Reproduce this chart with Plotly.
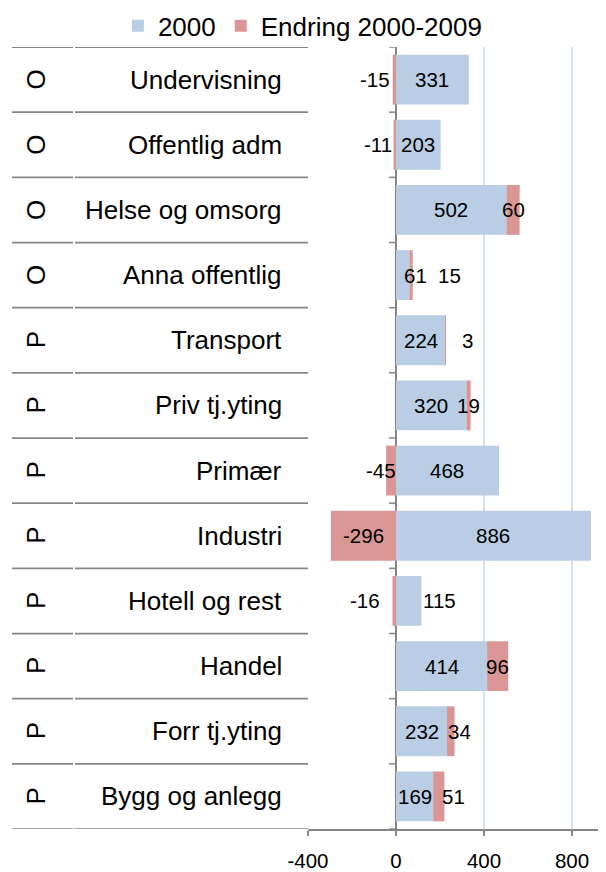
import plotly.graph_objects as go

# ---- data ----
categories = ["Undervisning", "Offentlig adm", "Helse og omsorg", "Anna offentlig",
              "Transport", "Priv tj.yting", "Primær", "Industri", "Hotell og rest",
              "Handel", "Forr tj.yting", "Bygg og anlegg"]
groups = ["O", "O", "O", "O", "P", "P", "P", "P", "P", "P", "P", "P"]
values_2000 = [331, 203, 502, 61, 224, 320, 468, 886, 115, 414, 232, 169]
change_2000_2009 = [-15, -11, 60, 15, 3, 19, -45, -296, -16, 96, 34, 51]
x_ticks = [-400, 0, 400, 800]
series_names = ["2000", "Endring 2000-2009"]

# ---- style ----
FONT = "Liberation Sans, Arial, sans-serif"
BLUE = "#B9CDE5"
RED = "#D99694"
GRAY = "#868686"
GRID = "#D6E1F0"
# pixel nudges of individual data labels (as placed in the original)
blue_label_shift = [0, 0, 0, 13, 0, 0, 0, 0, 31, 0, 0, 0]
red_label_shift = [-19, -17, 0, 38, 22, 0, -10, 0, -29, 0, 9, 15]

fig = go.Figure()
fig.add_trace(go.Bar(y=categories, x=values_2000, orientation="h", name=series_names[0],
                     marker=dict(color=BLUE, line=dict(width=0))))
fig.add_trace(go.Bar(y=categories, x=change_2000_2009, orientation="h", name=series_names[1],
                     marker=dict(color=RED, line=dict(width=0))))

annotations = []
label_font = dict(family=FONT, size=20.5, color="black")
for i, cat in enumerate(categories):
    v = values_2000[i]
    c = change_2000_2009[i]
    annotations.append(dict(x=v / 2, y=cat, xref="x", yref="y", text=str(v),
                            showarrow=False, font=label_font, xshift=blue_label_shift[i]))
    cx = v + c / 2 if c >= 0 else c / 2
    annotations.append(dict(x=cx, y=cat, xref="x", yref="y", text=str(c),
                            showarrow=False, font=label_font, xshift=red_label_shift[i]))
    # category label column
    annotations.append(dict(x=0, y=cat, xref="paper", yref="y", text=cat, showarrow=False,
                            xanchor="right", xshift=-24,
                            font=dict(family=FONT, size=26, color="black")))
    # group label column
    annotations.append(dict(x=0, y=cat, xref="paper", yref="y", text=groups[i], showarrow=False,
                            xanchor="center", xshift=-272, textangle=-90,
                            font=dict(family=FONT, size=26, color="black")))

shapes = []
n = len(categories)
for k in range(n + 1):
    yb = k - 0.5
    # table separator lines (two segments with a small break between columns)
    shapes.append(dict(type="line", xref="paper", yref="y", xsizemode="pixel", xanchor=0,
                       x0=-296, x1=-235, y0=yb, y1=yb, line=dict(color=GRAY, width=1.75)))
    shapes.append(dict(type="line", xref="paper", yref="y", xsizemode="pixel", xanchor=0,
                       x0=-233, x1=0, y0=yb, y1=yb, line=dict(color=GRAY, width=1.75)))
    # tick marks on the zero axis
    shapes.append(dict(type="line", xref="x", yref="y", xsizemode="pixel", xanchor=0,
                       x0=-7, x1=0, y0=yb, y1=yb, line=dict(color=GRAY, width=1.5)))

# the page body has an 8px margin, so the figure is sized to fill the rest of the window
fig.update_layout(
    width=598, height=864,
    margin=dict(l=300, r=0, t=39, b=43, autoexpand=False),
    paper_bgcolor="white", plot_bgcolor="white",
    barmode="relative", bargap=0.235,
    font=dict(family=FONT, size=20, color="black"),
    showlegend=True,
    legend=dict(orientation="h", x=-0.638, xanchor="left", y=1.0272, yanchor="middle",
                font=dict(family=FONT, size=26, color="black"),
                traceorder="normal", bgcolor="rgba(0,0,0,0)"),
    xaxis=dict(range=[-400, 954.5], tickvals=x_ticks, ticktext=[str(t) for t in x_ticks],
               showgrid=True, gridcolor=GRID, gridwidth=1.5,
               zeroline=True, zerolinecolor=GRAY, zerolinewidth=1.75,
               showline=True, linecolor=GRAY, linewidth=1.75,
               ticks="outside", ticklen=5, tickcolor=GRAY, tickwidth=1.5,
               ticklabelstandoff=8,
               tickfont=dict(family=FONT, size=20.5, color="black"), fixedrange=True),
    yaxis=dict(type="category", range=[n - 0.5, -0.5], showticklabels=False,
               showgrid=False, zeroline=False, showline=False, ticks="", fixedrange=True),
    annotations=annotations,
    shapes=shapes,
)

fig.write_html("out.html")
